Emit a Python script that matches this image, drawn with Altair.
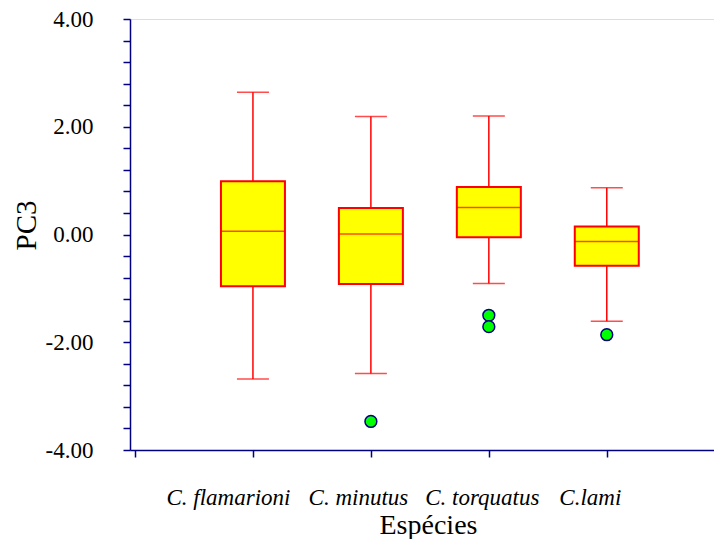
import altair as alt
import pandas as pd

species = ["C. flamarioni", "C. minutus", "C. torquatus", "C.lami"]
slot = [1, 2, 3, 4]
whisker_low = [-2.68, -2.58, -0.91, -1.61]
q1 = [-0.96, -0.92, -0.05, -0.58]
median = [0.06, 0.01, 0.50, -0.13]
q3 = [0.99, 0.49, 0.88, 0.15]
whisker_high = [2.64, 2.19, 2.20, 0.87]
outlier_slot = [2, 3, 3, 4]
outlier_value = [-3.47, -1.50, -1.71, -1.86]

x_tick_values = [0, 1, 2, 3, 4]
y_tick_values = [round(-4 + 0.4 * i, 1) for i in range(21)]

stats = pd.DataFrame({
    "species": species, "slot": slot, "lo": whisker_low, "q1": q1,
    "med": median, "q3": q3, "hi": whisker_high,
})
outl = pd.DataFrame({"slot": outlier_slot, "value": outlier_value})

RED = "#ff0000"
NAVY = "#000080"
FONT = "Liberation Serif"

label_expr = "''"
for v, name in reversed(list(zip(slot, species))):
    label_expr = f"datum.value == {v} ? '{name}' : ({label_expr})"

# the original's category labels sit slightly left of their ticks, unevenly
label_shift = {"condition": [
    {"test": "datum.value == 1", "value": -25},
    {"test": "datum.value == 2", "value": -13},
    {"test": "datum.value == 3", "value": -7},
], "value": -17}

x_axis = alt.Axis(
    values=x_tick_values, labelExpr=label_expr, grid=False,
    domainColor=NAVY, domainWidth=1.5, tickColor=NAVY, tickWidth=1.5, tickSize=7,
    labelFont=FONT, labelFontSize=23, labelFontStyle="italic", labelColor="black",
    labelPadding=29, labelOffset=label_shift, labelOverlap=False, labelFlush=False,
    titleFont=FONT, titleFontSize=28, titleFontWeight="normal", titleColor="black",
    titleBaseline="alphabetic", titleY=83, titleAlign="center", titleX=298,
)
y_axis = alt.Axis(
    values=y_tick_values,
    labelExpr="abs(datum.value/2 - round(datum.value/2)) < 0.01 ? ((datum.value < 0 ? '-' : '') + format(abs(datum.value), '.2f')) : ''",
    grid=False, domainColor=NAVY, domainWidth=1.5, tickColor=NAVY, tickWidth=1.5, tickSize=7,
    labelFont=FONT, labelFontSize=23, labelColor="black", labelPadding=30,
    labelOverlap=False, labelFlush=False,
    titleFont=FONT, titleFontSize=29, titleFontWeight="normal", titleColor="black",
    titleAngle=270, titleBaseline="alphabetic", titleAlign="center", titleX=-95, titleY=206,
)

x_scale = alt.Scale(domain=[0, 584 / 120], nice=False, zero=False)
y_scale = alt.Scale(domain=[-4, 4], nice=False, zero=False)

def X(field):
    return alt.X(f"{field}:Q", scale=x_scale, axis=x_axis, title="Espécies")

def Y(field):
    return alt.Y(f"{field}:Q", scale=y_scale, axis=y_axis, title="PC3")

base = alt.Chart(stats)

whisk = base.mark_rule(color=RED, strokeWidth=1.5).encode(x=X("slot"), y=Y("lo"), y2="hi:Q")
cap_lo = base.mark_tick(orient="horizontal", size=32, thickness=1.5, color=RED).encode(x=X("slot"), y=Y("lo"))
cap_hi = base.mark_tick(orient="horizontal", size=32, thickness=1.5, color=RED).encode(x=X("slot"), y=Y("hi"))
box = base.mark_bar(size=64, fill="#ffff00", stroke=RED, strokeWidth=2).encode(x=X("slot"), y=Y("q1"), y2="q3:Q")
med = base.mark_tick(orient="horizontal", size=64, thickness=1.5, color=RED).encode(x=X("slot"), y=Y("med"))
pts = alt.Chart(outl).mark_point(shape="circle", filled=True, fill="#00ff00", stroke=NAVY,
                                 strokeWidth=1.5, size=140, opacity=1).encode(x=X("slot"), y=Y("value"))

chart = alt.layer(whisk, cap_lo, cap_hi, box, med, pts).properties(
    width=584, height=431,
    autosize=alt.AutoSizeParams(type="none"),
    padding={"left": 122, "top": 11, "right": 0, "bottom": 89},
).configure_view(strokeWidth=0).configure(background="white")

chart.save("out.html", embed_options={"renderer": "svg", "actions": False})
